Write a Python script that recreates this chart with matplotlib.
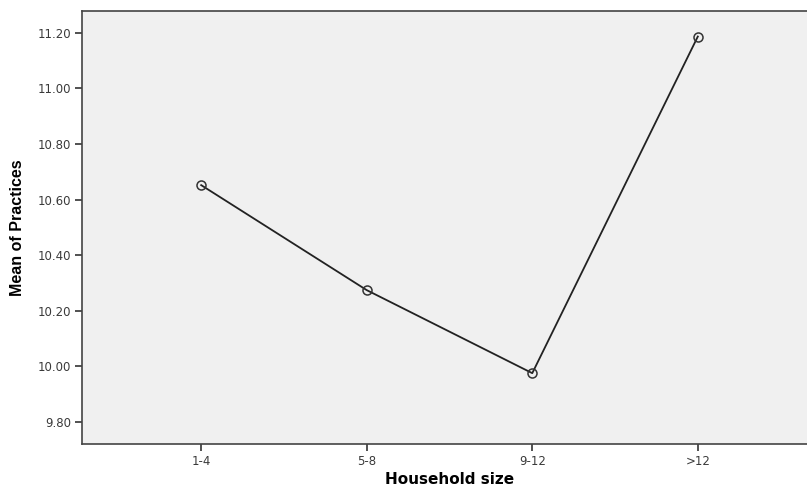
import matplotlib
matplotlib.use("Agg")
import matplotlib.pyplot as plt

# household size groups and mean of practices
groups = ['1-4', '5-8', '9-12', '>12']
mean_practices = [10.652, 10.274, 9.975, 11.187]
y_ticks = [9.80, 10.00, 10.20, 10.40, 10.60, 10.80, 11.00, 11.20]

plt.rcParams['font.family'] = ['DejaVu Sans']

fig = plt.figure(figsize=(8.07, 4.88), dpi=100)
# plot area runs a little past the right edge, like the cropped original
ax = fig.add_axes([82 / 807, 1 - 444 / 488, (817 - 82) / 807, (444 - 10.7) / 488])
ax.set_facecolor('#f0f0f0')

x = list(range(len(groups)))
ax.plot(x, mean_practices, color='#222222', linewidth=1.3,
        marker='o', markersize=6.5, markerfacecolor='none',
        markeredgecolor='#333333', markeredgewidth=1.1)

ax.set_xlim(-0.72, len(groups) - 1 + 0.72)
ax.set_ylim(9.72, 11.28)
ax.set_xticks(x)
ax.set_xticklabels(groups)
ax.set_yticks(y_ticks)
ax.set_yticklabels([f'{v:.2f}' for v in y_ticks])

for side in ['left', 'bottom', 'top', 'right']:
    ax.spines[side].set_color('#444444')
    ax.spines[side].set_linewidth(1.2)

ax.tick_params(axis='both', direction='out', length=5, width=1.2,
               color='#333333', labelsize=8.5, labelcolor='#3a3a3a', pad=3)

ax.set_xlabel('Household size', fontsize=11, fontweight='bold', labelpad=3)
ax.set_ylabel('Mean of Practices', fontsize=11.5, fontweight='bold',
              family=['Liberation Sans Narrow', 'Liberation Sans'], labelpad=9)

fig.savefig('out.png', dpi=100)
